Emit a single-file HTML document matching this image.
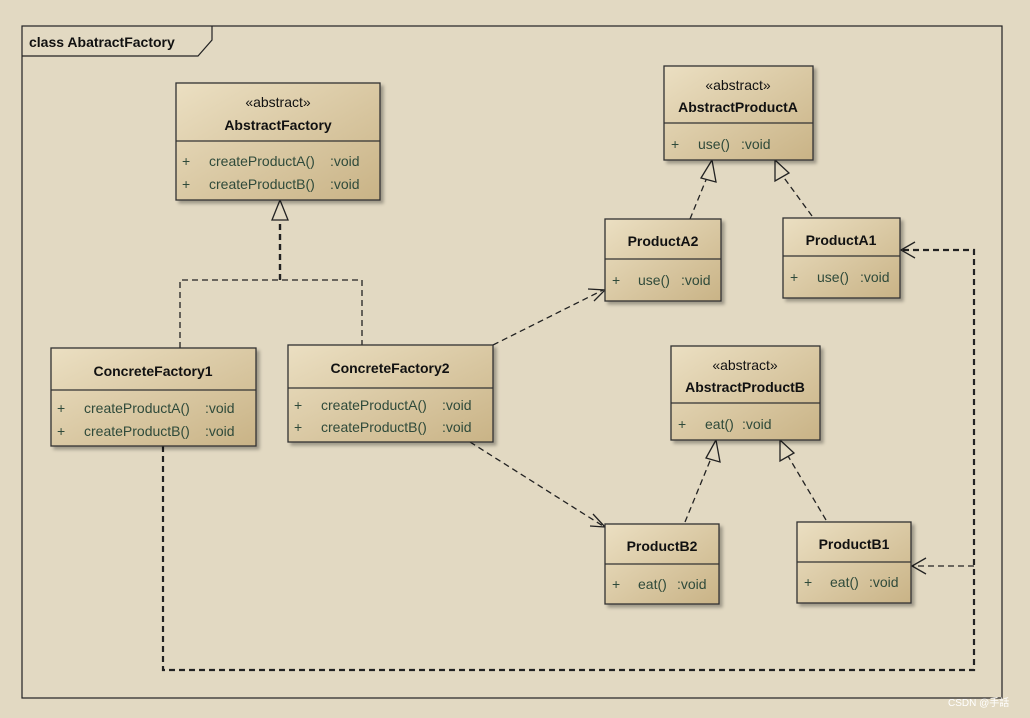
<!DOCTYPE html>
<html><head><meta charset="utf-8"><style>
body{margin:0;background:#e2d9c2;}
svg{display:block;font-family:"Liberation Sans",sans-serif;}
</style></head><body>
<svg width="1030" height="718" viewBox="0 0 1030 718" xmlns="http://www.w3.org/2000/svg">
<defs>
<linearGradient id="g" x1="0" y1="0" x2="1" y2="1">
<stop offset="0" stop-color="#ebdfc2"/><stop offset="1" stop-color="#c9b386"/>
</linearGradient>
<filter id="s" x="-5%" y="-5%" width="115%" height="120%"><feDropShadow dx="3" dy="3" stdDeviation="1.5" flood-color="#000" flood-opacity="0.3"/></filter>
</defs>
<rect width="1030" height="718" fill="#e2d9c2"/>
<rect x="22" y="26" width="980" height="672" fill="none" stroke="#222" stroke-width="1.2"/>
<path d="M22 56 H198 L212 40 V26" fill="none" stroke="#222" stroke-width="1.2"/>
<text x="29" y="47" font-size="14" font-weight="bold" fill="#111">class AbatractFactory</text>

<g stroke="#222" fill="none" stroke-dasharray="6,4" stroke-width="1.3">
<path d="M180 348 V280 H362 V345"/>
<path d="M280 280 V220" stroke-width="2.4"/>
<path d="M493 345 L603 290"/>
<path d="M470 442 L603 526"/>
<path d="M163 446 V670 H974 V250 H902" stroke-width="2.2"/>
<path d="M974 566 H913"/>
<path d="M690 219 L708 175"/>
<path d="M812 216 L782 175"/>
<path d="M685 522 L712 456"/>
<path d="M826 520 L788 456"/>
</g>
<g stroke="#222" fill="#e2d9c2" stroke-width="1.3">
<path d="M280 200 L272 220 L288 220 Z"/>
<path d="M712 160 L701 178 L716 182 Z"/>
<path d="M775 160 L775 181 L789 173 Z"/>
<path d="M716 440 L706 458 L720 462 Z"/>
<path d="M780 440 L780 461 L794 453 Z"/>
</g>
<g stroke="#222" fill="none" stroke-width="1.3">
<path d="M588 289 L605 290 L594 301"/>
<path d="M590 526 L605 527 L593 514"/>
<path d="M915 242 L901 250 L915 258"/>
<path d="M926 558 L912 566 L926 574"/>
</g>

<g filter="url(#s)" stroke="#333" stroke-width="1.3" fill="url(#g)">
<rect x="176" y="83" width="204" height="117"/>
<rect x="664" y="66" width="149" height="94"/>
<rect x="605" y="219" width="116" height="82"/>
<rect x="783" y="218" width="117" height="80"/>
<rect x="51" y="348" width="205" height="98"/>
<rect x="288" y="345" width="205" height="97"/>
<rect x="671" y="346" width="149" height="94"/>
<rect x="605" y="524" width="114" height="80"/>
<rect x="797" y="522" width="114" height="81"/>
</g>
<g stroke="#333" stroke-width="1.2">
<line x1="176" y1="141" x2="380" y2="141"/>
<line x1="664" y1="123" x2="813" y2="123"/>
<line x1="605" y1="259" x2="721" y2="259"/>
<line x1="783" y1="256" x2="900" y2="256"/>
<line x1="51" y1="390" x2="256" y2="390"/>
<line x1="288" y1="388" x2="493" y2="388"/>
<line x1="671" y1="403" x2="820" y2="403"/>
<line x1="605" y1="564" x2="719" y2="564"/>
<line x1="797" y1="562" x2="911" y2="562"/>
</g>
<g font-size="14" fill="#111" text-anchor="middle">
<text x="278" y="107">«abstract»</text>
<text x="278" y="130" font-weight="bold">AbstractFactory</text>
<text x="738" y="90">«abstract»</text>
<text x="738" y="112" font-weight="bold">AbstractProductA</text>
<text x="663" y="246" font-weight="bold">ProductA2</text>
<text x="841" y="245" font-weight="bold">ProductA1</text>
<text x="153" y="376" font-weight="bold">ConcreteFactory1</text>
<text x="390" y="373" font-weight="bold">ConcreteFactory2</text>
<text x="745" y="370">«abstract»</text>
<text x="745" y="392" font-weight="bold">AbstractProductB</text>
<text x="662" y="551" font-weight="bold">ProductB2</text>
<text x="854" y="549" font-weight="bold">ProductB1</text>
</g>
<g font-size="14" fill="#2f4a3a">
<text x="182" y="166">+</text><text x="209" y="166">createProductA()</text><text x="330" y="166">:void</text>
<text x="182" y="189">+</text><text x="209" y="189">createProductB()</text><text x="330" y="189">:void</text>
<text x="671" y="149">+</text><text x="698" y="149">use()</text><text x="741" y="149">:void</text>
<text x="612" y="285">+</text><text x="638" y="285">use()</text><text x="681" y="285">:void</text>
<text x="790" y="282">+</text><text x="817" y="282">use()</text><text x="860" y="282">:void</text>
<text x="57" y="413">+</text><text x="84" y="413">createProductA()</text><text x="205" y="413">:void</text>
<text x="57" y="436">+</text><text x="84" y="436">createProductB()</text><text x="205" y="436">:void</text>
<text x="294" y="410">+</text><text x="321" y="410">createProductA()</text><text x="442" y="410">:void</text>
<text x="294" y="432">+</text><text x="321" y="432">createProductB()</text><text x="442" y="432">:void</text>
<text x="678" y="429">+</text><text x="705" y="429">eat()</text><text x="742" y="429">:void</text>
<text x="612" y="589">+</text><text x="638" y="589">eat()</text><text x="677" y="589">:void</text>
<text x="804" y="587">+</text><text x="830" y="587">eat()</text><text x="869" y="587">:void</text>
</g>
<text x="948" y="706" font-size="10" fill="#fff" font-family="Liberation Sans, Noto Sans CJK SC, sans-serif">CSDN @手話</text>
</svg>
</body></html>
